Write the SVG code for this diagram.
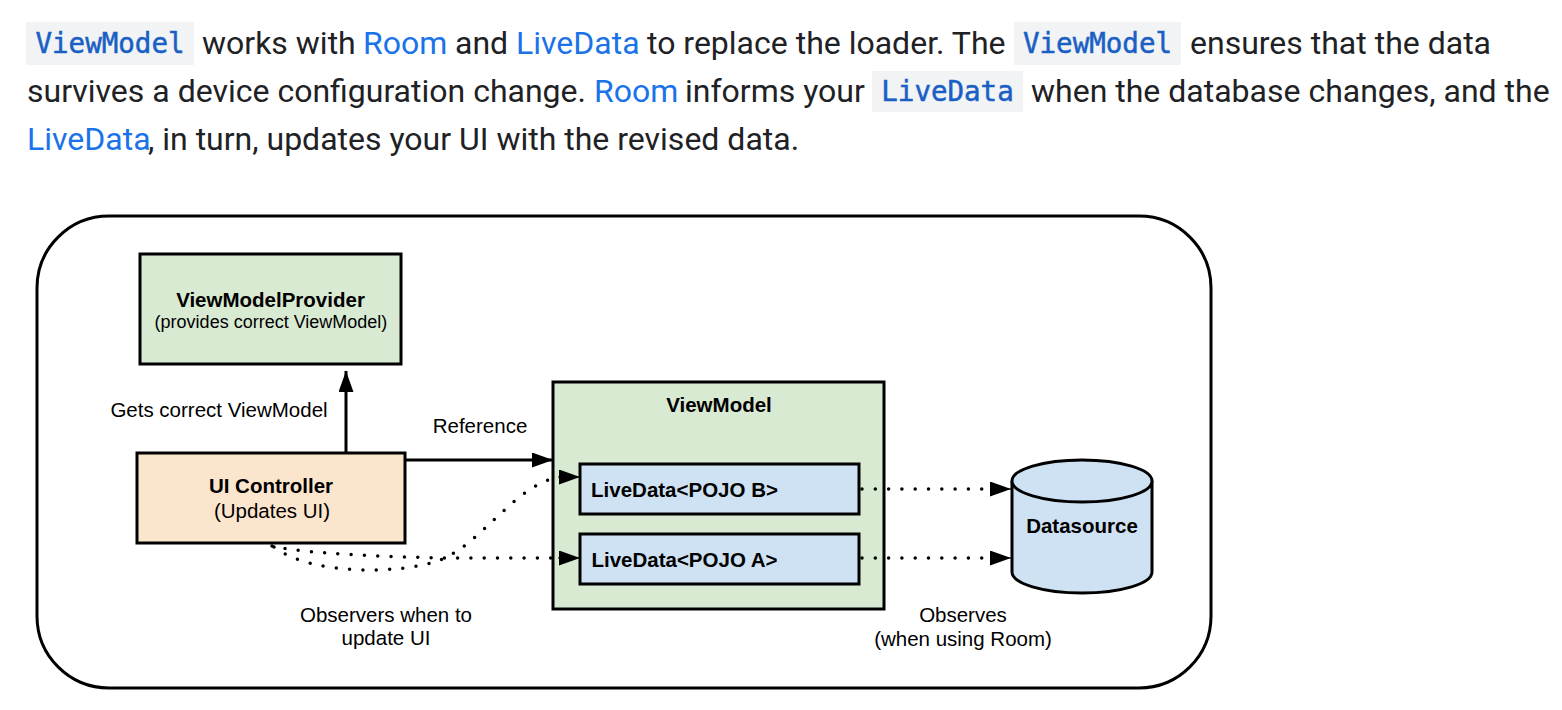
<svg xmlns="http://www.w3.org/2000/svg" width="1562" height="710" viewBox="0 0 1562 710">
<style>
.body{font-family:Roboto,"Liberation Sans",sans-serif;font-size:32px;fill:#202124}
.link{fill:#1a73e8}
.code{font-family:"DejaVu Sans Mono","Liberation Mono",monospace;font-size:27.5px;fill:#1a5fc4;stroke:#1a5fc4;stroke-width:0.5px;text-anchor:middle}
.codebg{fill:#f1f3f4}
.box{stroke:#000;stroke-width:3}
.t{font-family:"Liberation Sans",Arial,sans-serif;font-size:20.5px;fill:#000;text-anchor:middle}
.b{font-weight:bold}
.solid{fill:none;stroke:#000;stroke-width:3}
.dot{fill:none;stroke:#000;stroke-width:3.5;stroke-linecap:round;stroke-dasharray:0 13.3}
</style>
<defs>
<marker id="ah" markerUnits="userSpaceOnUse" markerWidth="22" markerHeight="16" refX="21" refY="7.5" orient="auto" viewBox="0 0 22 16">
<path d="M0,0 L21,7.5 L0,15 z" fill="#000"/>
</marker>
</defs>
<rect width="1562" height="710" fill="#fff"/>
<g id="intro">
<rect class="codebg" x="26" y="22" width="168" height="43"/>
<rect class="codebg" x="1014" y="22" width="167" height="43"/>
<rect class="codebg" x="872" y="71" width="151" height="41"/>
<text class="code" x="110" y="53">ViewModel</text>
<text class="body" x="202" y="54">works with</text>
<text class="body link" x="363" y="54">Room</text>
<text class="body" x="455" y="54">and</text>
<text class="body link" x="516" y="54">LiveData</text>
<text class="body" x="647" y="54">to replace the loader. The</text>
<text class="code" x="1097.5" y="53">ViewModel</text>
<text class="body" x="1190" y="54">ensures that the data</text>
<text class="body" x="27" y="102">survives a device configuration change.</text>
<text class="body link" x="594" y="102">Room</text>
<text class="body" x="685" y="102">informs your</text>
<text class="code" x="947.5" y="101">LiveData</text>
<text class="body" x="1031" y="102">when the database changes, and the</text>
<text class="body link" x="27" y="150">LiveData</text>
<text class="body" x="148" y="150">, in turn, updates your UI with the revised data.</text>
</g>
<rect id="frame" x="37" y="216" width="1174" height="472" rx="72" ry="72" fill="none" stroke="#000" stroke-width="3"/>
<g id="viewmodelprovider">
<rect class="box" x="140" y="254" width="261" height="110" fill="#d9ead3"/>
<text class="t b" x="270.5" y="307">ViewModelProvider</text>
<text class="t" x="271" y="328" style="font-size:18px">(provides correct ViewModel)</text>
</g>
<g id="uicontroller">
<rect class="box" x="137" y="453" width="268" height="90" fill="#fce5cd"/>
<text class="t b" x="271" y="493">UI Controller</text>
<text class="t" x="272" y="518">(Updates UI)</text>
</g>
<g id="viewmodel">
<rect class="box" x="553" y="382" width="331" height="227" fill="#d9ead3"/>
<text class="t b" x="719" y="412">ViewModel</text>
</g>
<g id="livedata-b">
<rect class="box" x="580" y="464" width="279" height="50" fill="#cfe2f3"/>
<text class="t b" x="684.5" y="497">LiveData&lt;POJO B&gt;</text>
</g>
<g id="livedata-a">
<rect class="box" x="580" y="534" width="279" height="50" fill="#cfe2f3"/>
<text class="t b" x="684.5" y="567">LiveData&lt;POJO A&gt;</text>
</g>
<g id="datasource">
<path class="box" d="M1012,481 L1012,572 A70,21 0 0 0 1152,572 L1152,481" fill="#cfe2f3"/>
<ellipse class="box" cx="1082" cy="481" rx="70" ry="21" fill="#cfe2f3"/>
<text class="t b" x="1082" y="533">Datasource</text>
</g>
<g id="connectors">
<line class="solid" x1="346" y1="453" x2="346" y2="371" marker-end="url(#ah)"/>
<line class="solid" x1="405" y1="460" x2="553" y2="460" marker-end="url(#ah)"/>
<path class="dot" d="M272,546 C300,553 380,557 450,558 L560,558"/>
<line class="solid" x1="558" y1="558" x2="580" y2="558" marker-end="url(#ah)" style="stroke-width:1"/>
<path class="dot" d="M274,547 C310,575 400,575 440,560 C480,545 515,486 556,478"/>
<line class="solid" x1="558" y1="477" x2="580" y2="477" marker-end="url(#ah)" style="stroke-width:1"/>
<path class="dot" d="M862,489 L990,489"/>
<line class="solid" x1="990" y1="489" x2="1011" y2="489" marker-end="url(#ah)" style="stroke-width:1"/>
<path class="dot" d="M862,558 L990,558"/>
<line class="solid" x1="990" y1="558" x2="1011" y2="558" marker-end="url(#ah)" style="stroke-width:1"/>
<text class="t" x="219" y="417">Gets correct ViewModel</text>
<text class="t" x="480" y="433">Reference</text>
<text class="t" x="386" y="622">Observers when to</text>
<text class="t" x="386" y="645">update UI</text>
<text class="t" x="963" y="622">Observes</text>
<text class="t" x="963" y="646">(when using Room)</text>
</g>
</svg>
